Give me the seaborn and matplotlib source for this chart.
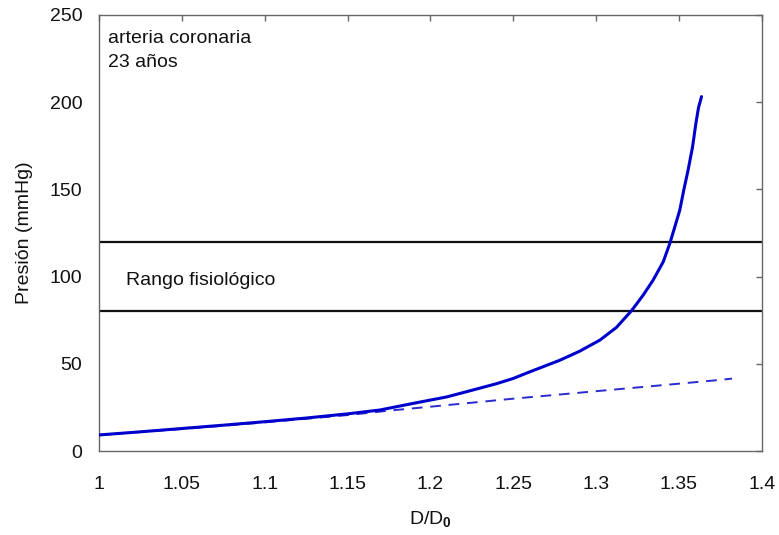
import matplotlib
matplotlib.use("Agg")
import matplotlib.pyplot as plt
import seaborn as sns
import pandas as pd

# Measured pressure vs. normalised diameter (coronary artery, 23 years)
ratio_measured = [1.000, 1.025, 1.050, 1.075, 1.100, 1.125, 1.150, 1.1695, 1.1896,
                  1.2098, 1.2218, 1.2399, 1.2500, 1.2600, 1.2780, 1.2900, 1.3023,
                  1.3123, 1.3214, 1.3284, 1.3344, 1.3405, 1.3445, 1.3475, 1.3505,
                  1.3529, 1.3555, 1.3582, 1.3602, 1.3618, 1.3636]
pressure_measured = [9.2, 11.0, 12.9, 14.8, 16.8, 18.9, 21.3, 23.5, 27.3,
                     31.0, 34.0, 38.6, 41.6, 45.4, 52.0, 57.2, 63.6,
                     70.9, 80.5, 89.4, 98.0, 108.5, 119.1, 128.6, 138.2,
                     149.7, 161.1, 174.5, 187.9, 197.0, 203.2]

# Low-pressure (elastin) extrapolation
ratio_linear = [1.000, 1.050, 1.100, 1.150, 1.1756, 1.200, 1.250, 1.2862, 1.300,
                1.350, 1.3706, 1.382]
pressure_linear = [9.2, 12.6, 16.4, 20.6, 23.2, 25.4, 30.0, 33.1, 34.3,
                   38.6, 40.4, 41.5]

# Physiological range limits
range_limits = [80, 120]

x_ticks = [1.0, 1.05, 1.1, 1.15, 1.2, 1.25, 1.3, 1.35, 1.4]
x_tick_labels = ["1", "1.05", "1.1", "1.15", "1.2", "1.25", "1.3", "1.35", "1.4"]
y_ticks = [0, 50, 100, 150, 200, 250]
y_tick_labels = ["0", "50", "100", "150", "200", "250"]

sns.set_theme(style="white")
plt.rcParams["font.family"] = ["Liberation Sans", "DejaVu Sans"]
plt.rcParams["mathtext.fontset"] = "custom"
plt.rcParams["mathtext.rm"] = "Liberation Sans"
plt.rcParams["mathtext.bf"] = "Liberation Sans:bold"

df_meas = pd.DataFrame({"ratio": ratio_measured, "pressure": pressure_measured})
df_lin = pd.DataFrame({"ratio": ratio_linear, "pressure": pressure_linear})

fig = plt.figure(figsize=(7.79, 5.35), dpi=100)
ax = fig.add_axes([0.127, 0.157, 0.851, 0.815])

for lim in range_limits:
    ax.axhline(lim, color="#111111", lw=1.6, zorder=1)

sns.lineplot(data=df_lin, x="ratio", y="pressure", ax=ax, color="#2a2ad0",
             lw=1.4, linestyle=(0, (5.5, 4.0)), sort=False, estimator=None, zorder=2)
sns.lineplot(data=df_meas, x="ratio", y="pressure", ax=ax, color="#0000cc",
             lw=2.2, sort=False, estimator=None, zorder=3)

ax.set_xlim(1.0, 1.4)
ax.set_ylim(0, 250)
ax.set_xticks(x_ticks)
ax.set_xticklabels(x_tick_labels)
ax.set_yticks(y_ticks)
ax.set_yticklabels(y_tick_labels)

for side in ["left", "right", "top", "bottom"]:
    ax.spines[side].set_visible(True)
    ax.spines[side].set_color("#666666")
    ax.spines[side].set_linewidth(1.0)

ax.tick_params(axis="both", which="both", direction="in", length=4.5, width=1.0,
               color="#666666", top=True, right=True, labelsize=14,
               labelcolor="#111111")
ax.tick_params(axis="x", pad=18)
ax.tick_params(axis="y", pad=12)

ax.set_xlabel(r"D/D$_\mathbf{0}$", fontsize=14, color="#111111", labelpad=12)
ax.set_ylabel("Presión (mmHg)", fontsize=14, color="#111111", labelpad=12)

ax.text(1.0052, 234.0, "arteria coronaria", fontsize=14, va="baseline",
        ha="left", color="#111111")
ax.text(1.0052, 220.2, "23 años", fontsize=14, va="baseline",
        ha="left", color="#111111")
ax.text(1.0163, 95.2, "Rango fisiológico", fontsize=14, va="baseline",
        ha="left", color="#111111")

fig.savefig("out.png", dpi=100, facecolor="white")
